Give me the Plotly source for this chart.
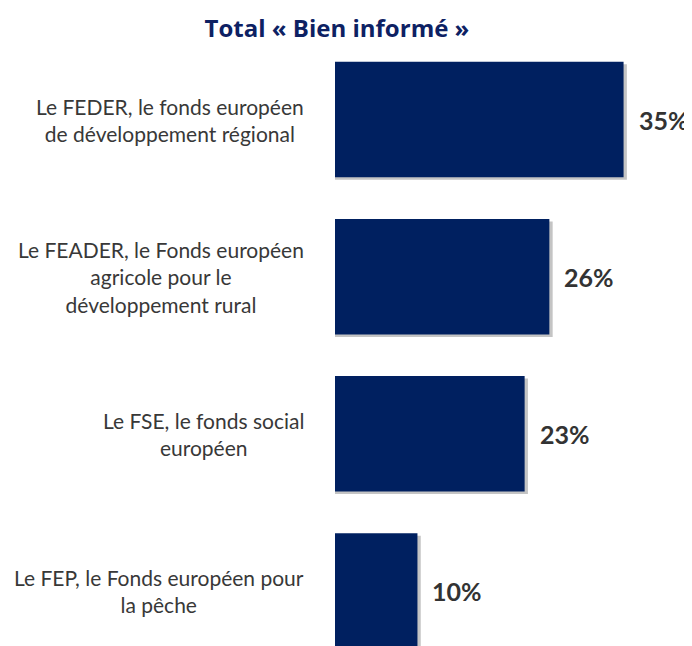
import plotly.graph_objects as go

categories = [
    "Le FEDER, le fonds européen<br>de développement régional",
    "Le FEADER, le Fonds européen<br>agricole pour le<br>développement rural",
    "Le FSE, le fonds social<br>européen",
    "Le FEP, le Fonds européen pour<br>la pêche",
]
values = [35, 26, 23, 10]
value_labels = ["35%", "26%", "23%", "10%"]
title_text = "Total « Bien informé »"

NAVY = "#002060"
BAR_W = 0.735

fig = go.Figure()
# soft shadow behind each bar
fig.add_trace(go.Bar(
    y=categories, x=[v + 0.4 for v in values], orientation="h",
    width=BAR_W, offset=-BAR_W / 2 + 0.016,
    marker=dict(color="#c4c4c4", line=dict(width=0)),
    hoverinfo="skip", showlegend=False,
))
fig.add_trace(go.Bar(
    y=categories, x=values, orientation="h",
    width=BAR_W, offset=-BAR_W / 2,
    marker=dict(color=NAVY, line=dict(width=0)),
    showlegend=False,
))

for cat, v, lab in zip(categories, values, value_labels):
    fig.add_annotation(
        x=v, y=cat, xref="x", yref="y", text=lab, showarrow=False,
        xanchor="left", yanchor="middle", xshift=13,
        font=dict(family="Lato", size=25, color="#333333", weight="bold"),
    )
    fig.add_annotation(
        x=0, y=cat, xref="x", yref="y", text=cat, showarrow=False,
        xanchor="right", yanchor="middle", xshift=-29, align="center",
        font=dict(family="Lato", size=21, color="#383838"),
    )

W, H = 684, 638  # page body has an 8px margin
fig.update_layout(
    width=W, height=H,
    margin=dict(l=327, r=0, t=33, b=0),
    paper_bgcolor="white", plot_bgcolor="white",
    barmode="overlay",
    title=dict(
        text=title_text, x=329 / W, xanchor="center", y=1 - 20.5 / H, yanchor="middle",
        font=dict(family="Open Sans", size=24, color="#0d2163", weight="bold"),
    ),
    xaxis=dict(range=[0, 43.3], visible=False, fixedrange=True),
    yaxis=dict(type="category", categoryorder="array", categoryarray=categories,
               range=[3.35, -0.5], visible=False, fixedrange=True),
)

fig.write_html("out.html")
